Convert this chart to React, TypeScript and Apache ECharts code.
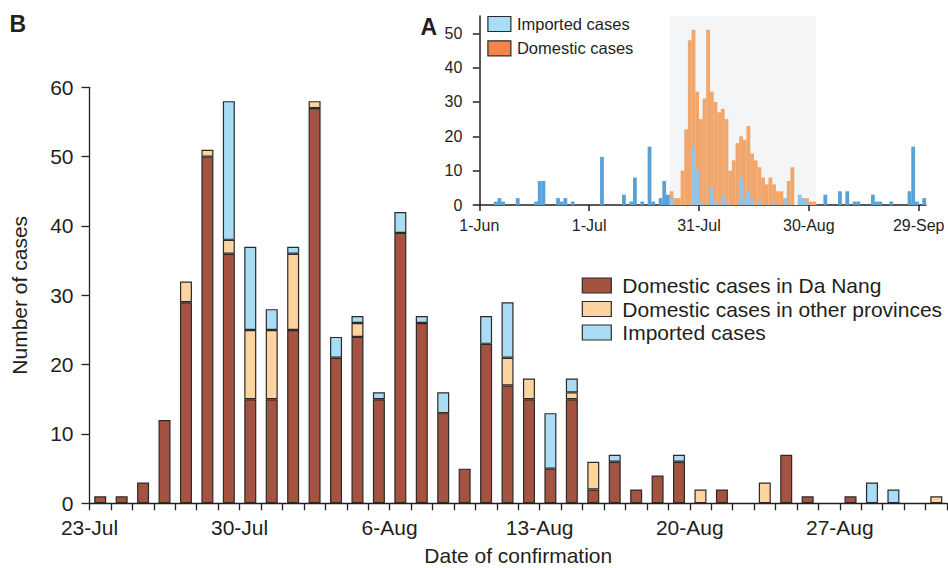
import React, { useEffect, useRef } from 'react';
import * as echarts from 'echarts';

// ---------- Panel B (main chart) data ----------
const MONTHS = ['Jan', 'Feb', 'Mar', 'Apr', 'May', 'Jun', 'Jul', 'Aug', 'Sep', 'Oct', 'Nov', 'Dec'];
const MAIN_START = new Date(2020, 6, 23); // 23-Jul
const MAIN_DAYS = 40; // 23-Jul .. 31-Aug

const daNangCases = [1, 1, 3, 12, 29, 50, 36, 15, 15, 25, 57, 21, 24, 15, 39, 26, 13, 5, 23, 17, 15, 5, 15, 2, 6, 2, 4, 6, 0, 2, 0, 0, 7, 1, 0, 1, 0, 0, 0, 0];
const otherProvinceCases = [0, 0, 0, 0, 3, 1, 2, 10, 10, 11, 1, 0, 2, 0, 0, 0, 0, 0, 0, 4, 3, 0, 1, 4, 0, 0, 0, 0, 2, 0, 0, 3, 0, 0, 0, 0, 0, 0, 0, 1];
const importedCases = [0, 0, 0, 0, 0, 0, 20, 12, 3, 1, 0, 3, 1, 1, 3, 1, 3, 0, 4, 8, 0, 8, 2, 0, 1, 0, 0, 1, 0, 0, 0, 0, 0, 0, 0, 0, 3, 2, 0, 0];

// ---------- Panel A (inset) data ----------
// day index counted from 1-Jun (day 0)
const insetTickDays = [0, 30, 60, 90, 120];
const insetTickLabels = ['1-Jun', '1-Jul', '31-Jul', '30-Aug', '29-Sep'];
const insetMaxDay = 122;
const outbreakStartDay = 52; // 23-Jul
const outbreakEndDay = 92; // 1-Sep

const insetDomesticStartDay = 52;
const insetDomesticCounts = [4, 2, 2, 10, 22, 48, 51, 33, 25, 31, 51, 33, 30, 27, 28, 25, 10, 13, 18, 20, 19, 23, 15, 13, 11, 8, 6, 8, 6, 4, 4, 1, 7, 11, 0, 1, 2, 2, 1, 1];

const insetImportedDays = [4, 5, 6, 10, 15, 16, 17, 21, 22, 23, 25, 33, 39, 41, 42, 44, 46, 47, 49, 50, 51, 52, 58, 59, 60, 63, 64, 66, 67, 71, 72, 73, 74, 76, 80, 83, 87, 88, 89, 94, 98, 100, 102, 103, 107, 108, 109, 112, 117, 118, 119, 121];
const insetImportedCounts = [1, 2, 1, 2, 1, 7, 7, 2, 1, 2, 1, 14, 3, 1, 8, 1, 17, 1, 2, 7, 3, 2, 17, 10, 1, 5, 1, 3, 1, 8, 2, 4, 2, 1, 1, 2, 3, 2, 1, 3, 4, 4, 1, 1, 3, 1, 1, 1, 4, 17, 1, 2];

// ---------- styles ----------
const FONT = '"Liberation Sans", Arial, Helvetica, sans-serif';
const INK = '#231f20';
const BORDER = '#2a2a2a';
const C_DANANG = '#a3533f';
const C_OTHER = '#fdd3a0';
const C_IMPORTED = '#a9dcf5';
const C_INSET_DOM = '#f1a66c';
const C_INSET_IMP = '#5aa2d5';
const C_INSET_IMP_LIGHT = '#93c3e5';
const C_REGION = '#f3f5f7';

function fmtDate(d: Date) {
  return `${d.getDate()}-${MONTHS[d.getMonth()]}`;
}
function datesFrom(start: Date, n: number) {
  const out: string[] = [];
  for (let i = 0; i < n; i++) {
    const d = new Date(start.getFullYear(), start.getMonth(), start.getDate() + i);
    out.push(fmtDate(d));
  }
  return out;
}

const mainDates = datesFrom(MAIN_START, MAIN_DAYS);
const boundaryLabels = datesFrom(MAIN_START, MAIN_DAYS + 1);

const nz = (arr: number[]) => arr.map((v) => (v === 0 ? null : v));

export default function App() {
  const ref = useRef<HTMLDivElement>(null);

  useEffect(() => {
    if (!ref.current) return;
    const chart = echarts.init(ref.current, undefined, { renderer: 'svg' });

    const axisLineStyle = { color: INK, width: 1.3 };
    const barBorder = { borderColor: BORDER, borderWidth: 1.2 };

    const domesticData = insetDomesticCounts
      .map((c, i) => [insetDomesticStartDay + i + 0.5, c])
      .filter((p) => p[1] > 0);
    const importedData = insetImportedDays.map((d, i) => ({
      value: [d + 0.5, insetImportedCounts[i]],
      itemStyle: {
        color: d >= outbreakStartDay && d < outbreakEndDay ? C_INSET_IMP_LIGHT : C_INSET_IMP,
      },
    }));

    const insetLeft = 479.3;
    const insetWidth = 446.7;
    const insetBarW = insetWidth / insetMaxDay + 0.15;

    const option: any = {
      animation: false,
      textStyle: { fontFamily: FONT, color: INK },
      grid: [
        { left: 89.5, top: 87.3, width: 857.5, height: 416, outerBoundsMode: 'none', containLabel: false },
        { left: insetLeft, top: 16.1, width: insetWidth, height: 188.9, outerBoundsMode: 'none', containLabel: false },
      ],
      xAxis: [
        {
          type: 'category',
          gridIndex: 0,
          data: mainDates,
          boundaryGap: true,
          axisLine: { lineStyle: axisLineStyle },
          axisTick: { show: true, interval: 0, length: 7, lineStyle: axisLineStyle },
          axisLabel: { show: false },
          splitLine: { show: false },
        },
        {
          type: 'category',
          gridIndex: 0,
          position: 'bottom',
          data: boundaryLabels,
          boundaryGap: false,
          axisLine: { show: false },
          axisTick: { show: false },
          splitLine: { show: false },
          axisLabel: {
            interval: (i: number) => i % 7 === 0,
            fontSize: 21,
            color: INK,
            margin: 14,
            fontFamily: FONT,
          },
          name: 'Date of confirmation',
          nameLocation: 'middle',
          nameGap: 42,
          nameTextStyle: { fontSize: 21, lineHeight: 21, color: INK, fontFamily: FONT },
        },
        {
          type: 'value',
          gridIndex: 1,
          min: 0,
          max: insetMaxDay,
          axisLine: { show: true, onZero: false, lineStyle: { color: INK, width: 1.5 } },
          axisTick: { show: true, customValues: insetTickDays, length: 6, lineStyle: { color: INK, width: 1.5 } },
          axisLabel: {
            customValues: insetTickDays,
            formatter: (v: number) => {
              const i = insetTickDays.indexOf(v);
              return i >= 0 ? insetTickLabels[i] : '';
            },
            fontSize: 16,
            color: INK,
            margin: 12,
            fontFamily: FONT,
          },
          splitLine: { show: false },
        },
      ],
      yAxis: [
        {
          type: 'value',
          gridIndex: 0,
          min: 0,
          max: 60,
          interval: 10,
          axisLine: { show: true, lineStyle: axisLineStyle },
          axisTick: { show: true, length: 8, lineStyle: axisLineStyle },
          splitLine: { show: false },
          axisLabel: { fontSize: 21, color: INK, margin: 16, fontFamily: FONT },
          name: 'Number of cases',
          nameLocation: 'middle',
          nameGap: 60,
          nameTextStyle: { fontSize: 21, color: INK, fontFamily: FONT },
        },
        {
          type: 'value',
          gridIndex: 1,
          min: 0,
          max: 55,
          axisLine: { show: true, lineStyle: { color: INK, width: 1.5 } },
          axisTick: { show: true, customValues: [0, 10, 20, 30, 40, 50], length: 6.5, lineStyle: { color: INK, width: 1.5 } },
          axisLabel: { customValues: [0, 10, 20, 30, 40, 50], fontSize: 16, color: INK, margin: 17, fontFamily: FONT },
          splitLine: { show: false },
        },
      ],
      legend: [
        {
          orient: 'vertical',
          left: 581.7,
          top: 275,
          padding: 0,
          icon: 'rect',
          itemWidth: 29,
          itemHeight: 15,
          itemGap: 2.5,
          selectedMode: false,
          textStyle: { fontSize: 21, lineHeight: 21, color: INK, fontFamily: FONT, padding: [0, 0, 0, 6] },
          data: [
            { name: 'Domestic cases in Da Nang', itemStyle: { color: C_DANANG, ...barBorder } },
            { name: 'Domestic cases in other provinces', itemStyle: { color: C_OTHER, ...barBorder } },
            { name: 'Imported cases', itemStyle: { color: C_IMPORTED, ...barBorder } },
          ],
        },
        {
          orient: 'vertical',
          left: 487.3,
          top: 15.5,
          padding: 0,
          icon: 'rect',
          itemWidth: 23,
          itemHeight: 15,
          itemGap: 7.3,
          selectedMode: false,
          textStyle: { fontSize: 16.5, lineHeight: 16, color: INK, fontFamily: FONT, padding: [0, 0, 0, 1] },
          data: [
            { name: 'Imported cases', itemStyle: { color: C_IMPORTED, ...barBorder } },
            { name: 'Domestic cases', itemStyle: { color: '#f4844b', ...barBorder } },
          ],
        },
      ],
      series: [
        {
          name: 'Domestic cases in Da Nang',
          type: 'bar',
          xAxisIndex: 0,
          yAxisIndex: 0,
          stack: 'main',
          barWidth: 12,
          data: nz(daNangCases),
          itemStyle: { color: C_DANANG, ...barBorder },
        },
        {
          name: 'Domestic cases in other provinces',
          type: 'bar',
          xAxisIndex: 0,
          yAxisIndex: 0,
          stack: 'main',
          barWidth: 12,
          data: nz(otherProvinceCases),
          itemStyle: { color: C_OTHER, ...barBorder },
        },
        {
          name: 'Imported cases',
          type: 'bar',
          xAxisIndex: 0,
          yAxisIndex: 0,
          stack: 'main',
          barWidth: 12,
          data: nz(importedCases),
          itemStyle: { color: C_IMPORTED, ...barBorder },
        },
        {
          name: 'Domestic cases',
          type: 'bar',
          xAxisIndex: 2,
          yAxisIndex: 1,
          barWidth: insetBarW,
          barGap: '-100%',
          data: domesticData,
          itemStyle: { color: C_INSET_DOM },
          markArea: {
            silent: true,
            itemStyle: { color: C_REGION },
            data: [[{ xAxis: outbreakStartDay }, { xAxis: outbreakEndDay }]],
          },
        },
        {
          name: 'Imported cases',
          type: 'bar',
          xAxisIndex: 2,
          yAxisIndex: 1,
          barWidth: insetBarW,
          barGap: '-100%',
          data: importedData,
          itemStyle: { color: C_INSET_IMP },
        },
      ],
      graphic: [
        {
          type: 'text',
          left: 9.5,
          top: 12,
          style: { text: 'B', font: `bold 23px ${FONT}`, fill: INK },
        },
        {
          type: 'text',
          left: 420.5,
          top: 15,
          style: { text: 'A', font: `bold 23px ${FONT}`, fill: INK },
        },
      ],
    };

    chart.setOption(option);
    return () => chart.dispose();
  }, []);

  return (
    <div
      ref={ref}
      style={{ position: 'absolute', left: 0, top: 0, width: 948, height: 568, background: '#fff' }}
    />
  );
}
